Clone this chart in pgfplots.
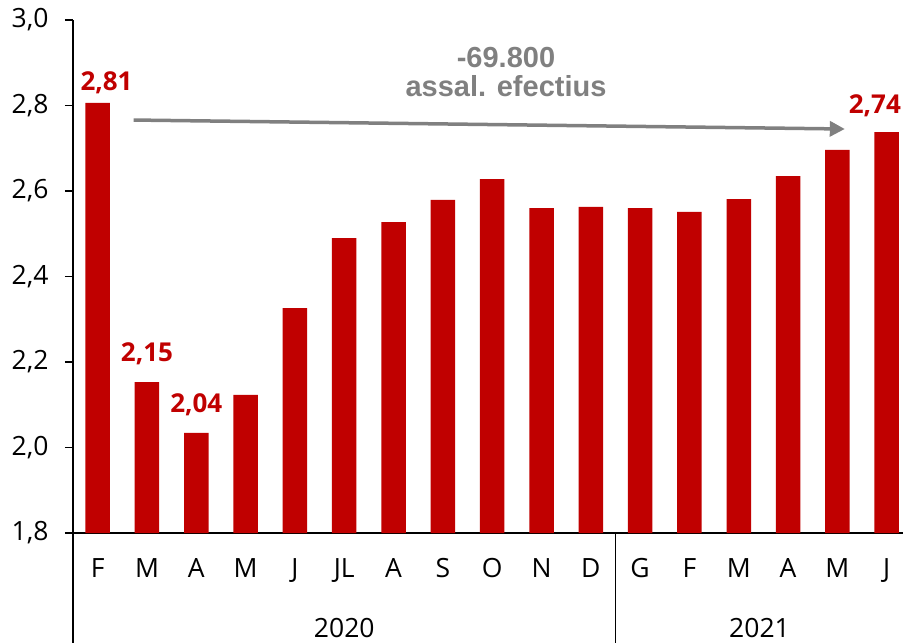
\documentclass[border=0pt]{standalone}
\usepackage{pgfplots}
\pgfplotsset{compat=1.18}
\usepackage{fontspec}
\setmainfont{Open Sans}
\newfontfamily\arialfont{Liberation Sans}
\usetikzlibrary{arrows.meta}
\definecolor{barred}{HTML}{C00000}
\definecolor{annogray}{HTML}{808080}
\begin{document}
\begin{tikzpicture}
\useasboundingbox (-73pt,-110pt) rectangle (830pt,533pt);
\begin{axis}[
  at={(0pt,0pt)}, anchor=south west,
  scale only axis, width=830pt, height=513pt,
  xmin=-0.5, xmax=16.33, ymin=1.8, ymax=3.0,
  clip=false,
  axis x line*=bottom, axis y line*=left,
  axis line style={line width=1.4pt, black},
  ybar, bar width=24.5pt,
  ytick={1.8,2.0,2.2,2.4,2.6,2.8,3.0},
  /pgf/number format/assume math mode=true,
  yticklabel style={xshift=-13pt, /pgf/number format/.cd, use comma, fixed, fixed zerofill, precision=1},
  xticklabel style={yshift=-14pt},
  tick align=outside, major tick length=8pt,
  y tick style={line width=1.4pt, black},
  xtick=data,
  xticklabels={F,M,A,M,J,JL,A,S,O,N,D,G,F,M,A,M,J},
  x tick style={draw=none},
  tick label style={font=\fontsize{26.5}{30}\selectfont},
]
\addplot[fill=barred, draw=none] coordinates {
(0,2.806) (1,2.153) (2,2.034) (3,2.123) (4,2.326) (5,2.490) (6,2.527)
(7,2.579) (8,2.628) (9,2.560) (10,2.563) (11,2.560) (12,2.551) (13,2.581)
(14,2.635) (15,2.696) (16,2.738)};
% separators
\draw[line width=1.4pt] (axis cs:-0.5,1.8) -- ++(0pt,-110pt);
\draw[line width=1.4pt] (axis cs:10.5,1.8) -- ++(0pt,-110pt);
% year labels
\node[font=\fontsize{26.5}{30}\selectfont] at ([yshift=-95pt]axis cs:5,1.8) {2020};
\node[font=\fontsize{26.5}{30}\selectfont] at ([yshift=-95pt]axis cs:13.42,1.8) {2021};
% data labels
\node[anchor=base, text=barred, font=\bfseries\fontsize{26}{30}\selectfont] at (axis cs:0.18,2.834) {2,81};
\node[anchor=base, text=barred, font=\bfseries\fontsize{26}{30}\selectfont] at (axis cs:1.0,2.2) {2,15};
\node[anchor=base, text=barred, font=\bfseries\fontsize{26}{30}\selectfont] at (axis cs:2.0,2.081) {2,04};
\node[anchor=base, text=barred, font=\bfseries\fontsize{26}{30}\selectfont] at (axis cs:15.76,2.782) {2,74};
% annotation
\draw[line width=3.5pt, color=annogray, -{Triangle[width=15pt,length=15pt]}] (axis cs:0.73,2.766) -- (axis cs:15.15,2.745);
\node[anchor=base, text=annogray, font=\arialfont\bfseries\fontsize{29}{32}\selectfont] at (axis cs:8.28,2.888) {-69.800};
\node[anchor=base, text=annogray, font=\arialfont\bfseries\fontsize{29}{32}\selectfont] at (axis cs:8.28,2.82) {assal. efectius};
\end{axis}
\end{tikzpicture}
\end{document}
